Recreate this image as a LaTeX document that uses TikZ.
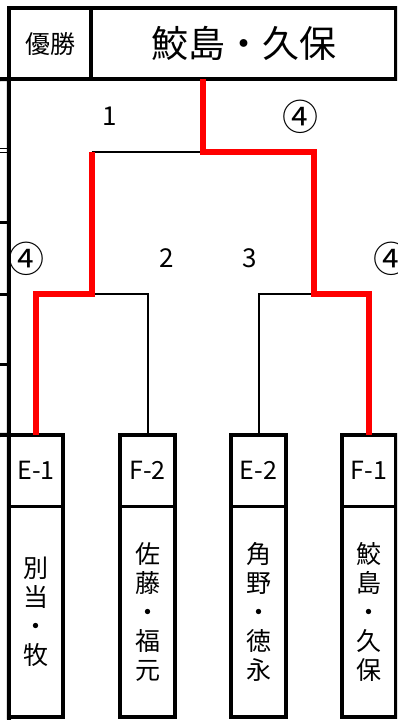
\documentclass[tikz,border=0pt]{standalone}
\usepackage{fontspec}
\newfontfamily\jp{Noto Sans CJK JP}
\begin{document}
\begin{tikzpicture}[x=1pt,y=-1pt,
  frame/.style={line width=4pt},
  divline/.style={line width=3pt},
  tick/.style={line width=3pt},
  bline/.style={line width=2pt},
  rline/.style={line width=6pt,draw={rgb,255:red,255;green,0;blue,0}},
  cell/.style={inner sep=0pt,minimum width=54pt,anchor=center},
  lab/.style={cell,minimum height=71.5pt,font=\jp\fontsize{25}{25}\selectfont},
  nm/.style={cell,minimum height=210.5pt,align=center,font=\jp\fontsize{25}{29}\selectfont},
  num/.style={inner sep=0pt,font=\jp\fontsize{26}{26}\selectfont},
  circ/.style={inner sep=0pt,font=\jp\fontsize{36}{36}\selectfont}]
\clip (0,0) rectangle (397,720);
\fill[white] (0,0) rectangle (397,720);
% header
\node[inner sep=0pt,minimum width=82pt,minimum height=70.5pt,font=\jp\fontsize{25}{25}\selectfont] (yu) at (50,43.75) {優勝};
\node[inner sep=0pt,minimum width=304pt,minimum height=70.5pt,font=\jp\fontsize{37}{37}\selectfont] (ti) at (244,43.75) {鮫島・久保};
\draw[frame] (yu.north west) rectangle (ti.south east);
\draw[frame] (yu.north east) -- (yu.south east);
\coordinate (hl) at (0,79.25);
\draw[frame] (hl) -- (yu.south west);
% entry boxes
\node[lab] (e1) at (36,470.75) {E-1};
\node[lab] (f2) at (147.5,470.75) {F-2};
\node[lab] (e2) at (258.5,470.75) {E-2};
\node[lab] (f1) at (369,470.75) {F-1};
\node[nm] (n1) at (36,611.75) {別\\当\\・\\牧};
\node[nm] (n2) at (147.5,611.75) {佐\\藤\\・\\福\\元};
\node[nm] (n3) at (258.5,611.75) {角\\野\\・\\徳\\永};
\node[nm] (n4) at (369,611.75) {鮫\\島\\・\\久\\保};
\foreach \a/\b in {e1/n1,f2/n2,e2/n3,f1/n4}{
  \draw[frame] (\a.north west) rectangle (\b.south east);
  \draw[divline] (\a.south west) -- (\a.south east);
}
% left edge
\coordinate (lb) at (9,720);
\draw[frame] (yu.south west) -- (lb);
\coordinate (bl) at (0,435);
\draw[frame] (bl) -- (e1.north west);
\coordinate (t1a) at (0,148.5); \coordinate (t1b) at (9,148.5);
\coordinate (t2a) at (0,152.5); \coordinate (t2b) at (9,152.5);
\draw[line width=1.5pt] (t1a) -- (t1b) (t2a) -- (t2b);
\coordinate (t3a) at (0,222); \coordinate (t3b) at (9,222);
\coordinate (t4a) at (0,294); \coordinate (t4b) at (9,294);
\coordinate (t5a) at (0,364); \coordinate (t5b) at (9,364);
\draw[tick] (t3a) -- (t3b) (t4a) -- (t4b) (t5a) -- (t5b);
% bracket
\coordinate (j1) at (91.5,294);
\coordinate (j2) at (314,294);
\coordinate (q1) at (91.5,151.5);
\coordinate (k) at (203,151.5);
\coordinate (top) at (203,79);
\draw[bline] (f2.north) |- (j1);
\draw[bline] (e2.north) |- (j2);
\draw[bline] (q1) -- (k);
\draw[rline] (e1.north) |- (j1) -- (q1);
\draw[rline] (f1.north) |- (j2) |- (k) -- (top);
% scores
\node[num] (s1) at (110,116) {1};
\node[circ] (s2) at (300,117) {④};
\node[circ] (s3) at (27,259) {④};
\node[num] (s4) at (167,258) {2};
\node[num] (s5) at (250,258) {3};
\node[circ] (s6) at (391,259) {④};
\end{tikzpicture}
\end{document}
